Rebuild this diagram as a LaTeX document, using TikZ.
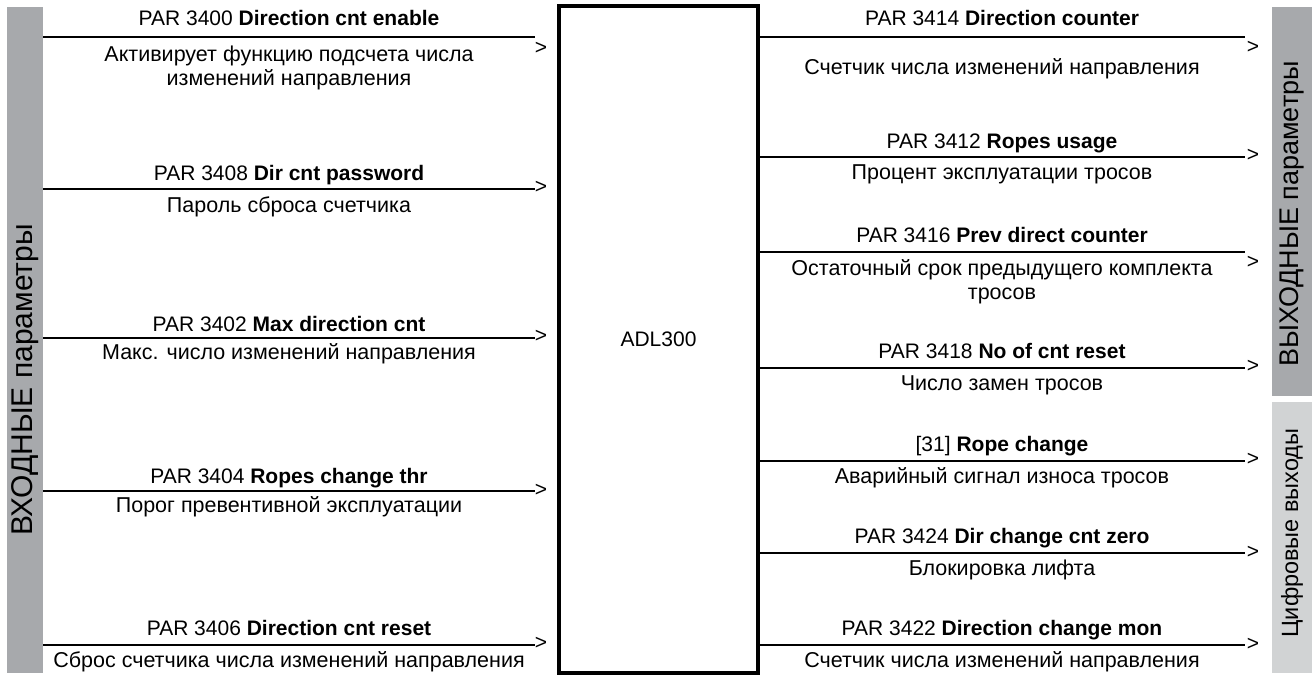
\documentclass[tikz,border=0pt]{standalone}
\usepackage{fontspec}
\setmainfont{Liberation Sans}
\definecolor{bardark}{HTML}{A7A9AC}
\definecolor{barlight}{HTML}{D1D3D4}

\begin{document}
\begin{tikzpicture}[x=1pt, y=-1pt,
	every node/.style={font=\fontsize{21}{24}\selectfont, inner sep=0pt},
	par/.style={text height=15pt, text depth=4pt},
	desc/.style={align=center, font=\fontsize{21.5}{24}\selectfont},
	gt/.style={},
	sig/.style={line width=2.4pt},
	side/.style={rotate=90, font=\fontsize{27}{30}\selectfont}]
	\useasboundingbox (0,0) rectangle (1312,675);

	\fill[bardark] (7,7) rectangle (43,673);
	\fill[bardark] (1272,7) rectangle (1312,396);
	\fill[barlight] (1272,402) rectangle (1312,673);
	\node[side, font=\fontsize{30}{33}\selectfont] (lin) at (25,380) {ВХОДНЫЕ параметры};
	\node[side] (lout) at (1292,214) {ВЫХОДНЫЕ параметры};
	\node[side, font=\fontsize{23.5}{26}\selectfont] (ldig) at (1292,533) {Цифровые выходы};

	\node[draw, line width=4.5pt, minimum width=199pt, minimum height=667pt] (adl) at (658.5,339.5) {ADL300};

	\node[par] (i1) at (289,20) {PAR 3400 \textbf{Direction cnt enable}};
	\node[desc] (d1) at (289,68) {Активирует функцию подсчета числа\\изменений направления};
	\node[par] (i2) at (289,175) {PAR 3408 \textbf{Dir cnt password}};
	\node[desc] (d2) at (289,207) {Пароль сброса счетчика};
	\node[par] (i3) at (289,326) {PAR 3402 \textbf{Max direction cnt}};
	\node[desc] (d3) at (289,354) {Макс. число изменений направления};
	\node[par] (i4) at (289,478) {PAR 3404 \textbf{Ropes change thr}};
	\node[desc] (d4) at (289,507) {Порог превентивной эксплуатации};
	\node[par] (i5) at (289,630) {PAR 3406 \textbf{Direction cnt reset}};
	\node[desc] (d5) at (289,662) {Сброс счетчика числа изменений направления};

	\node[par] (o1) at (1002,20) {PAR 3414 \textbf{Direction counter}};
	\node[desc] (e1) at (1002,69) {Счетчик числа изменений направления};
	\node[par] (o2) at (1002,143) {PAR 3412 \textbf{Ropes usage}};
	\node[desc] (e2) at (1002,174) {Процент эксплуатации тросов};
	\node[par] (o3) at (1002,237) {PAR 3416 \textbf{Prev direct counter}};
	\node[desc] (e3) at (1002,282) {Остаточный срок предыдущего комплекта\\тросов};
	\node[par] (o4) at (1002,353) {PAR 3418 \textbf{No of cnt reset}};
	\node[desc] (e4) at (1002,385) {Число замен тросов};
	\node[par] (o5) at (1002,446) {[31] \textbf{Rope change}};
	\node[desc] (e5) at (1002,478) {Аварийный сигнал износа тросов};
	\node[par] (o6) at (1002,538) {PAR 3424 \textbf{Dir change cnt zero}};
	\node[desc] (e6) at (1002,570) {Блокировка лифта};
	\node[par] (o7) at (1002,630) {PAR 3422 \textbf{Direction change mon}};
	\node[desc] (e7) at (1002,662) {Счетчик числа изменений направления};

	\node[gt] (gi1) at (541,48) {>};
	\node[gt] (gi2) at (541,187) {>};
	\node[gt] (gi3) at (541,336) {>};
	\node[gt] (gi4) at (541,490) {>};
	\node[gt] (gi5) at (541,643) {>};
	\node[gt] (go1) at (1253,47) {>};
	\node[gt] (go2) at (1253,155) {>};
	\node[gt] (go3) at (1253,262) {>};
	\node[gt] (go4) at (1253,366) {>};
	\node[gt] (go5) at (1253,459) {>};
	\node[gt] (go6) at (1253,552) {>};
	\node[gt] (go7) at (1253,644) {>};

	\coordinate (ia1) at (43,37);   \coordinate (ib1) at (535,37);
	\coordinate (ia2) at (43,189);  \coordinate (ib2) at (535,189);
	\coordinate (ia3) at (43,338);  \coordinate (ib3) at (535,338);
	\coordinate (ia4) at (43,491);  \coordinate (ib4) at (535,491);
	\coordinate (ia5) at (43,645);  \coordinate (ib5) at (535,645);
	\coordinate (oa1) at (760,37);  \coordinate (ob1) at (1245,37);
	\coordinate (oa2) at (760,157); \coordinate (ob2) at (1245,157);
	\coordinate (oa3) at (760,252); \coordinate (ob3) at (1245,252);
	\coordinate (oa4) at (760,368); \coordinate (ob4) at (1245,368);
	\coordinate (oa5) at (760,461); \coordinate (ob5) at (1245,461);
	\coordinate (oa6) at (760,553); \coordinate (ob6) at (1245,553);
	\coordinate (oa7) at (760,645); \coordinate (ob7) at (1245,645);

	\path[sig]
	(ia1) edge (ib1)
	(ia2) edge (ib2)
	(ia3) edge (ib3)
	(ia4) edge (ib4)
	(ia5) edge (ib5)
	(oa1) edge (ob1)
	(oa2) edge (ob2)
	(oa3) edge (ob3)
	(oa4) edge (ob4)
	(oa5) edge (ob5)
	(oa6) edge (ob6)
	(oa7) edge (ob7)
	;
\end{tikzpicture}
\end{document}
